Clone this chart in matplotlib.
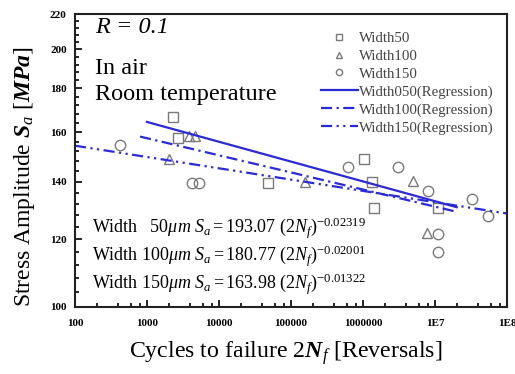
import numpy as np
import matplotlib
matplotlib.use("Agg")
import matplotlib.pyplot as plt
from matplotlib.ticker import FixedLocator, FixedFormatter, NullFormatter

plt.rcParams['font.family'] = ['Liberation Serif', 'DejaVu Serif']
plt.rcParams['mathtext.fontset'] = 'custom'
plt.rcParams['mathtext.rm'] = 'Liberation Serif'
plt.rcParams['mathtext.it'] = 'Liberation Serif:italic'
plt.rcParams['mathtext.bf'] = 'Liberation Serif:bold'
plt.rcParams['mathtext.bfit'] = 'Liberation Serif:bold:italic'

# measured data (reversals, stress amplitude MPa)
w50_n = [2300, 2700, 48400, 1.04e6, 1.34e6, 1.43e6, 1.11e7]
w50_s = [166.8, 157.7, 139.4, 148.7, 139.8, 130.6, 130.6]
w100_n = [2000, 3870, 4640, 1.56e5, 5.0e6, 7.67e6]
w100_s = [148.7, 158.4, 158.4, 140.0, 140.2, 122.1]
w150_n = [422, 4180, 5270, 6.26e5, 3.03e6, 8.07e6, 3.24e7, 5.5e7, 1.11e7, 1.11e7]
w150_s = [154.6, 139.4, 139.4, 145.8, 145.8, 136.6, 133.5, 127.7, 121.6, 116.0]

# regression S = A * (2N)^b, with plotted range
fits = [
    ("Width050(Regression)", 193.07, -0.02319, 1000, 2e7, "-"),
    ("Width100(Regression)", 180.77, -0.02001, 800, 2e7, (0, (5, 2, 1, 2))),
    ("Width150(Regression)", 163.98, -0.01322, 100, 1e8, (0, (5, 2, 1, 2, 1, 2))),
]
fit_labels = ["50", "100", "150"]

x_ticks = [1e2, 1e3, 1e4, 1e5, 1e6, 1e7, 1e8]
x_ticklabels = ["100", "1000", "10000", "100000", "1000000", "1E7", "1E8"]
y_ticks = [100, 120, 140, 160, 180, 200, 220]

blue = "#2a2ad8"
grey = "#7a7a7a"

fig = plt.figure(figsize=(5.15, 3.74), dpi=100)
ax = fig.add_axes([75 / 515, 1 - 306.7 / 374, 432 / 515, 292.7 / 374])
ax.set_xscale("log")
ax.set_yscale("log")

ax.plot(w50_n, w50_s, "s", ms=7, mfc="none", mec=grey, mew=1.0, label="Width50")
ax.plot(w100_n, w100_s, "^", ms=7.5, mfc="none", mec=grey, mew=1.0, label="Width100")
ax.plot(w150_n, w150_s, "o", ms=7.5, mfc="none", mec=grey, mew=1.0, label="Width150")

for name, a, b, n0, n1, ls in fits:
    n = np.logspace(np.log10(n0), np.log10(n1), 100)
    ax.plot(n, a * n ** b, color=blue, lw=1.6, ls=ls, label=name)

ax.set_xlim(100, 1e8)
ax.set_ylim(100, 220)

ax.xaxis.set_major_locator(FixedLocator(x_ticks))
ax.xaxis.set_major_formatter(FixedFormatter(x_ticklabels))
minor_x = [m * 10.0 ** e for e in range(2, 8) for m in (2, 4, 6, 8)]
ax.xaxis.set_minor_locator(FixedLocator(minor_x))
ax.xaxis.set_minor_formatter(NullFormatter())
ax.yaxis.set_major_locator(FixedLocator(y_ticks))
ax.yaxis.set_major_formatter(FixedFormatter([str(v) for v in y_ticks]))
ax.yaxis.set_minor_locator(FixedLocator(list(range(100, 221, 4))))
ax.yaxis.set_minor_formatter(NullFormatter())

ax.tick_params(which="both", direction="in", top=False, right=False, width=1.2)
ax.tick_params(which="major", length=5, labelsize=8)
ax.tick_params(axis="x", which="major", pad=9)
ax.tick_params(axis="y", which="major", pad=6)
ax.tick_params(which="minor", length=3)
for lab in ax.get_xticklabels() + ax.get_yticklabels():
    lab.set_fontweight("bold")
for sp in ax.spines.values():
    sp.set_linewidth(1.5)
    sp.set_color("#222222")

ax.set_xlabel(r"Cycles to failure 2$\mathbfit{N}_{f}$ [Reversals]", fontsize=17.2)
ax.xaxis.set_label_coords((286 - 75) / 432, -(353 - 306.7) / 292.7)
ax.xaxis.label.set_va("center")
ax.set_ylabel(r"Stress Amplitude $\mathbfit{S}_{a}$ [$\mathbfit{MPa}$]", fontsize=17)
ax.yaxis.set_label_coords((25 - 75) / 432, (306.7 - 177) / 292.7)
ax.yaxis.label.set_va("center")

ax.text(0.047, 0.953, "R = 0.1", transform=ax.transAxes, fontsize=17.5, va="center", style="italic")
ax.text(0.047, 0.814, "In air", transform=ax.transAxes, fontsize=17.5, va="center")
ax.text(0.047, 0.725, "Room temperature", transform=ax.transAxes, fontsize=17.5, va="center")

eq_y = [(306.7 - 228) / 292.7, (306.7 - 256) / 292.7, (306.7 - 284) / 292.7]
for (name, a, b, n0, n1, ls), w, yy in zip(fits, fit_labels, eq_y):
    pad = r"\ \ " if w == "50" else ""
    s = (r"$\mathrm{Width}\ " + pad + r"\mathit{" + w + r"\mu m}\ S_{a}\mathrm{=%.2f\ (2}N_{f}\mathrm{)}^{%.5f}$" % (a, b))
    ax.text(0.04, yy, s, transform=ax.transAxes, fontsize=13, va="center")

leg = ax.legend(loc="upper right", bbox_to_anchor=(0.968, 0.94), frameon=False, fontsize=10.7,
                handlelength=2.5, handletextpad=0.05, labelspacing=0.3, markerscale=0.6,
                borderpad=0, borderaxespad=0)
for t in leg.get_texts():
    t.set_color("#444444")

fig.savefig("out.png", dpi=100)
